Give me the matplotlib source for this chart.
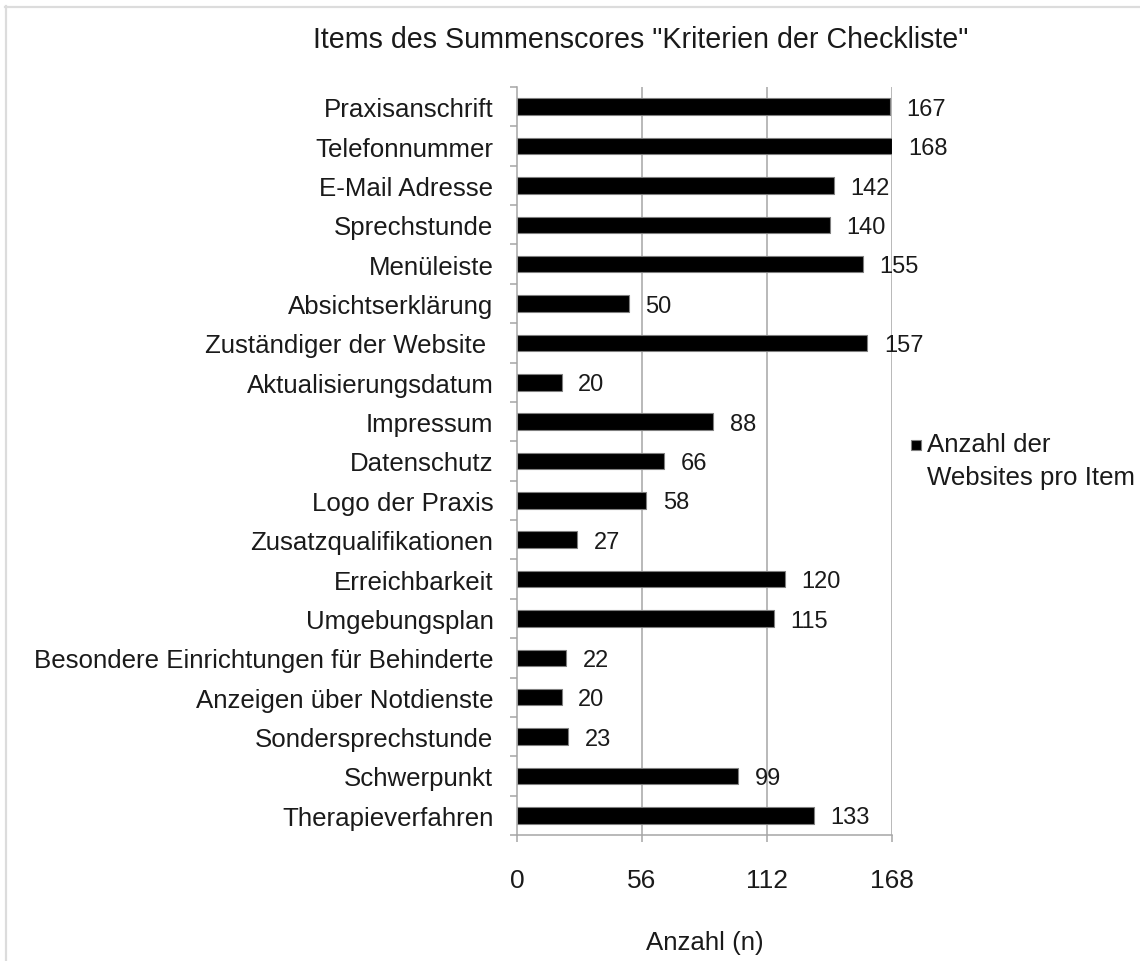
import matplotlib
matplotlib.use("Agg")
import matplotlib.pyplot as plt
from matplotlib.patches import Rectangle
from matplotlib.legend_handler import HandlerPatch
from matplotlib.lines import Line2D
import numpy as np

plt.rcParams['font.family'] = ['Liberation Sans', 'DejaVu Sans']

categories = [
    "Praxisanschrift", "Telefonnummer", "E-Mail Adresse", "Sprechstunde",
    "Menüleiste", "Absichtserklärung", "Zuständiger der Website ",
    "Aktualisierungsdatum", "Impressum", "Datenschutz", "Logo der Praxis",
    "Zusatzqualifikationen", "Erreichbarkeit", "Umgebungsplan",
    "Besondere Einrichtungen für Behinderte", "Anzeigen über Notdienste",
    "Sondersprechstunde", "Schwerpunkt", "Therapieverfahren",
]
values = [167, 168, 142, 140, 155, 50, 157, 20, 88, 66, 58, 27, 120, 115,
          22, 20, 23, 99, 133]
xticks = [0, 56, 112, 168]
title = 'Items des Summenscores "Kriterien der Checkliste"'
xlabel = "Anzahl (n)"
legend_label = "Anzahl der\nWebsites pro Item"

W, H = 1140, 962
fig = plt.figure(figsize=(W / 100, H / 100), dpi=100)
ax = fig.add_axes([517 / W, 1 - 836 / H, (892 - 517) / W, (836 - 88) / H])

FS = 18.6
txt = "#1a1a1a"
grey = "#a6a6a6"
n = len(categories)
y = np.arange(n)

ax.set_axisbelow(True)
for t in xticks[1:]:
    ax.axvline(t, color=grey, lw=1.1, zorder=0)

bars = ax.barh(y, values, height=0.42, color="black", edgecolor="#7f7f7f",
               linewidth=0.8, label=legend_label, zorder=2)
for yi, v in zip(y, values):
    ax.annotate(str(v), (v, yi), xytext=(12, -1.5), textcoords="offset points",
                ha="left", va="center", fontsize=17, color=txt)

ax.set_xlim(0, 168)
ax.set_ylim(n - 0.5, -0.5)
ax.set_yticks(y)
ax.set_yticklabels(categories, fontsize=FS, color=txt)
ax.set_yticks(np.arange(-0.5, n, 1), minor=True)
ax.tick_params(axis="y", which="major", length=0, pad=17)
ax.tick_params(axis="y", which="minor", length=5, color=grey, width=1.1)
ax.set_xticks(xticks)
ax.set_xticklabels([str(t) for t in xticks], fontsize=19, color=txt)
ax.tick_params(axis="x", which="major", length=5, color=grey, width=1.1, pad=19)
ax.set_xlabel(xlabel, fontsize=FS, color=txt, labelpad=27)

for s in ["top", "right"]:
    ax.spines[s].set_visible(False)
for s in ["left", "bottom"]:
    ax.spines[s].set_color(grey)
    ax.spines[s].set_linewidth(1.1)

fig.text(641 / W, 1 - 40 / H, title, ha="center", va="center",
         fontsize=20.6, color=txt)


def make_handle(legend, orig_handle, xdescent, ydescent, width, height, fontsize):
    s = 0.4 * fontsize
    return Rectangle((-xdescent, -ydescent + 0.77 * fontsize), s, s)


leg = fig.legend(handles=[bars.patches[0]], labels=[legend_label],
                 loc="upper left", bbox_to_anchor=(911 / W, 1 - 433 / H),
                 frameon=False, fontsize=FS, handlelength=0.42,
                 handletextpad=0.2, borderpad=0, borderaxespad=0,
                 labelspacing=0.1,
                 handler_map={Rectangle: HandlerPatch(patch_func=make_handle)})
for t in leg.get_texts():
    t.set_color(txt)
    t.set_linespacing(1.5)

# light figure border (top and left)
fig.add_artist(Line2D([5 / W, 1], [1 - 7.5 / H, 1 - 7.5 / H], color="#dcdcdc",
                      lw=1.6, transform=fig.transFigure))
fig.add_artist(Line2D([5.5 / W, 5.5 / W], [0, 1 - 7 / H], color="#dcdcdc",
                      lw=1.6, transform=fig.transFigure))

fig.savefig("out.png", dpi=100)
